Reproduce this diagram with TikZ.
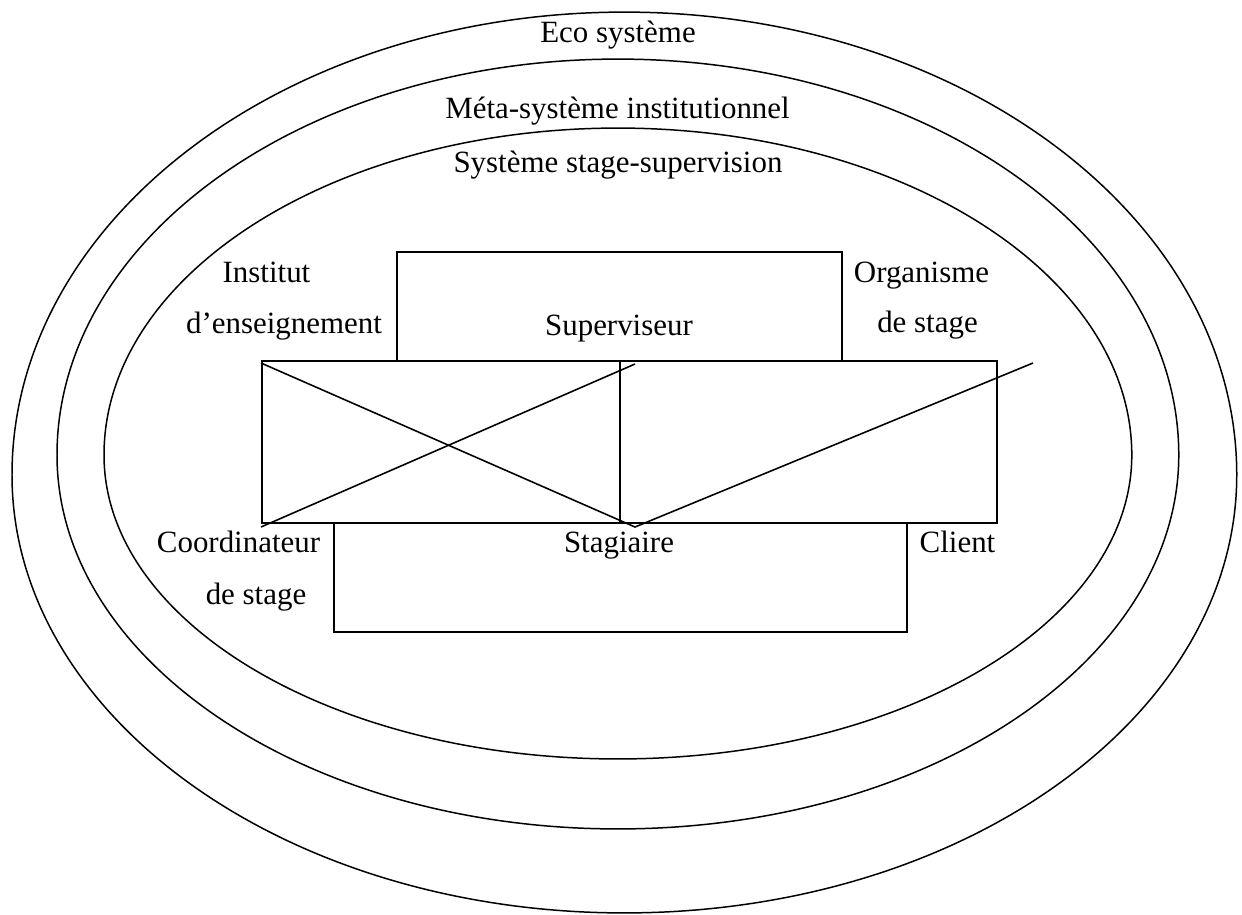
\documentclass[tikz,border=0pt]{standalone}
\usepackage{fontspec}
\setmainfont{Liberation Serif}
\usetikzlibrary{positioning,fit}
\tikzset{cadre/.style={draw=black,line width=1.1pt,rectangle,inner sep=0pt,outer sep=0pt},
        anneau/.style={draw=black,line width=0.85pt}}
\tikzstyle{texte} = [inner sep=0pt, anchor=base, text=black]
\tikzstyle{trait} = [line width=0.9pt, line join=miter]

\begin{document}
\begin{tikzpicture}[x=0.02cm,y=-0.02cm,font=\fontsize{17.6}{21}\selectfont]
	\useasboundingbox (0,0) rectangle (1242,914);

	\draw[anneau] (12,475) arc[start angle=180,end angle=0,x radius=12.25cm,y radius=9.26cm]
		arc[start angle=0,end angle=-180,x radius=12.25cm,y radius=8.76cm] -- cycle;
	\draw[anneau] (57,455) arc[start angle=180,end angle=0,x radius=11.22cm,y radius=7.92cm]
		arc[start angle=0,end angle=-180,x radius=11.22cm,y radius=7.48cm] -- cycle;
	\draw[anneau] (104,455) arc[start angle=180,end angle=0,x radius=10.28cm,y radius=6.54cm]
		arc[start angle=0,end angle=-180,x radius=10.28cm,y radius=6.08cm] -- cycle;

	\node[texte] (teco) at (618,42) {Eco système};
	\node[texte] (tmeta) at (617.5,118) {Méta-système institutionnel};
	\node[texte] (tsss) at (618,172) {Système stage-supervision};

	\node[cadre,fit={(397,252)(842,361)}] (superviseur) {};
	\node[cadre,fit={(262,361)(620,523)}] (gauche) {};
	\node[cadre,fit={(620,361)(997,523)}] (droite) {};
	\node[cadre,fit={(334,523)(907,632)}] (stagiaire) {};

	\node[texte] (tsup) at (619,335) {Superviseur};
	\node[texte] (tstag) at (619,552) {Stagiaire};
	\node[texte] (inst1) at (266.5,282) {Institut};
	\node[texte] (inst2) at (284,333) {d’enseignement};
	\node[texte] (org1) at (921.5,282) {Organisme};
	\node[texte] (org2) at (927.5,332) {de stage};
	\node[texte] (coord1) at (238.5,552) {Coordinateur};
	\node[texte] (coord2) at (256,604) {de stage};
	\node[texte] (client) at (957.5,552) {Client};

	\coordinate (hg) at (261,363);
	\coordinate (bg) at (261,527);
	\coordinate (pointe) at (635,527);
	\coordinate (haut) at (635,364);
	\coordinate (fin) at (1033,363);
	\draw[trait] (hg) -- (pointe) -- (fin);
	\draw[trait] (bg) -- (haut);
\end{tikzpicture}
\end{document}
